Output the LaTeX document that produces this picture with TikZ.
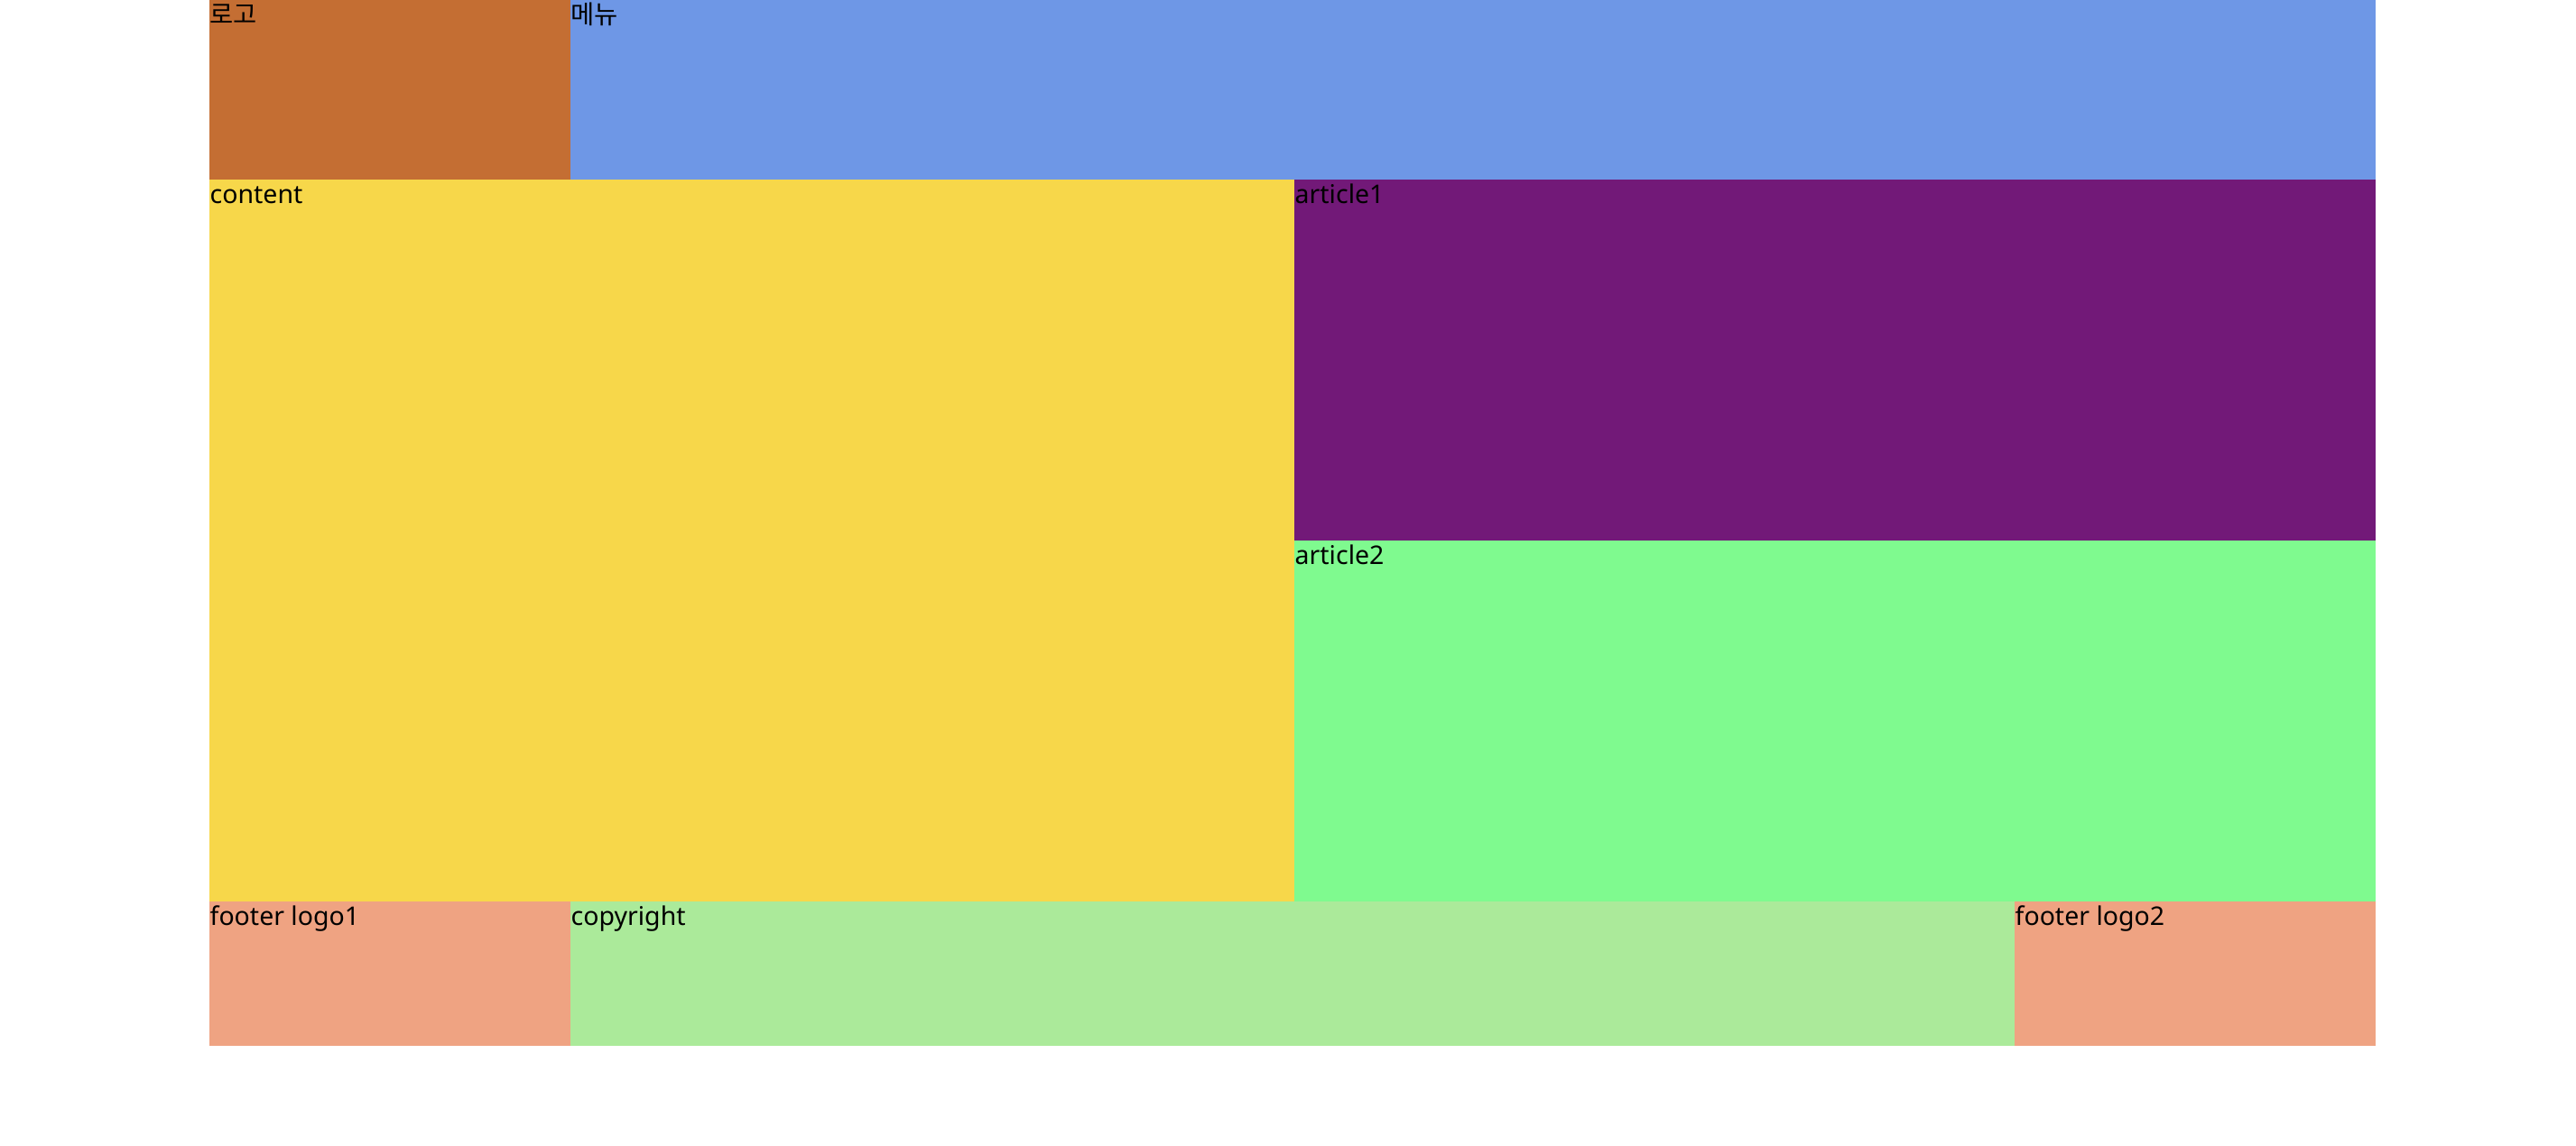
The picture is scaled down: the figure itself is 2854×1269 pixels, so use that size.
\documentclass[tikz,border=0pt]{standalone}
\usepackage{fontspec}
\setmainfont{Noto Sans}
\newfontfamily\kr{Noto Sans CJK KR}
\usepackage{xcolor}
\usepackage{tikz}
\usetikzlibrary{positioning}

\definecolor{logocol}{HTML}{C46E33}
\definecolor{menucol}{HTML}{6E97E6}
\definecolor{contentcol}{HTML}{F7D74A}
\definecolor{artonecol}{HTML}{721978}
\definecolor{arttwocol}{HTML}{7FFA8F}
\definecolor{footcol}{HTML}{EFA382}
\definecolor{copycol}{HTML}{ABEA9A}

\begin{document}
\begin{tikzpicture}[x=0.01cm, y=-0.01cm,
    lbl/.style={anchor=base west, inner sep=0pt, font=\fontsize{8.1}{10}\selectfont}]
    \useasboundingbox (0,0) rectangle (2854,1269);
    % 1. Header
    \fill[logocol] (232,0) rectangle (632,199);
    \fill[menucol] (632,0) rectangle (2632,199);
    \node[lbl] (logo) at (232,26) {\kr 로고};
    \node[lbl] (menu) at (632,26) {\kr 메뉴};

    % 2. Content and articles
    \fill[contentcol] (232,199) rectangle (1434,999);
    \fill[artonecol] (1434,199) rectangle (2632,599);
    \fill[arttwocol] (1434,599) rectangle (2632,999);
    \node[lbl] (content) at (232,225) {content};
    \node[lbl] (article1) at (1434,225) {article1};
    \node[lbl] (article2) at (1434,625) {article2};

    % 3. Footer
    \fill[footcol] (232,999) rectangle (632,1159);
    \fill[copycol] (632,999) rectangle (2232,1159);
    \fill[footcol] (2232,999) rectangle (2632,1159);
    \node[lbl] (flogo1) at (232,1025) {footer logo1};
    \node[lbl] (copyright) at (632,1025) {copyright};
    \node[lbl] (flogo2) at (2232,1025) {footer logo2};
\end{tikzpicture}
\end{document}
